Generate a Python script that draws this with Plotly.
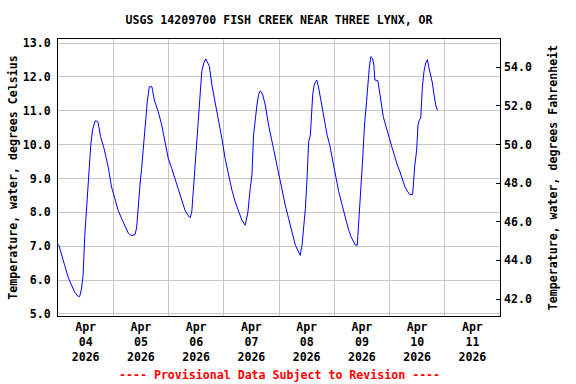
import pandas as pd
import plotly.graph_objects as go

# Hours since 2026-04-04 00:00 and water temperature (deg C)
hours = [0.30, 1.48, 2.92, 4.36, 5.84, 7.27, 8.71, 9.45, 10.19, 10.89, 11.63, 12.63, 13.50, 14.24, 14.98,
         15.68, 16.12, 16.86, 17.42, 18.47, 19.91, 21.78, 23.26, 24.70, 26.13, 27.62, 29.05, 30.49, 31.67,
         33.41, 34.15, 34.85, 35.59, 36.33, 37.02, 38.07, 38.77, 39.64, 40.81, 41.81, 43.56, 45.04, 46.48,
         47.91, 49.39, 50.83, 52.27, 53.75, 55.19, 56.36, 57.37, 58.11, 58.80, 59.54, 60.28, 60.98, 61.72,
         62.46, 63.33, 64.20, 65.07, 65.77, 66.82, 68.25, 69.69, 71.17, 72.61, 74.05, 75.53, 76.97, 78.40,
         79.88, 81.32, 82.50, 83.50, 84.24, 84.94, 85.68, 86.42, 87.11, 87.85, 88.86, 90.03, 91.47, 92.95,
         94.39, 95.83, 97.31, 98.74, 100.18, 101.66, 103.10, 104.54, 105.20, 106.00, 106.89, 107.45, 108.19,
         108.89, 109.63, 110.07, 110.63, 111.37, 112.38, 113.25, 113.99, 114.73, 115.43, 116.17, 116.91,
         118.04, 119.08, 119.78, 120.83, 121.96, 123.01, 124.14, 125.31, 126.32, 127.36, 128.49, 129.23,
         130.00, 130.41, 131.11, 131.72, 132.15, 132.59, 133.15, 134.03, 134.59, 135.20, 135.90, 136.64,
         137.20, 137.64, 138.95, 139.69, 140.43, 141.30, 142.30, 143.04, 144.17, 145.22, 146.22, 147.40,
         148.53, 149.58, 150.71, 151.75, 152.75, 154.06, 154.36, 154.93, 155.80, 156.37, 156.98, 157.55,
         158.29, 158.98, 159.72, 160.46, 161.16, 161.90, 162.64, 163.34, 164.08, 164.82]
temp_c = [7.05, 6.73, 6.43, 6.09, 5.84, 5.64, 5.52, 5.52, 5.74, 6.14, 7.32, 8.41, 9.05, 9.99, 10.43,
          10.66, 10.70, 10.70, 10.66, 10.24, 9.91, 9.35, 8.75, 8.41, 8.06, 7.82, 7.60, 7.39, 7.32,
          7.34, 7.54, 8.21, 8.80, 9.30, 9.89, 10.73, 11.27, 11.71, 11.71, 11.32, 10.97, 10.58, 10.09,
          9.59, 9.30, 9.00, 8.66, 8.36, 8.06, 7.92, 7.84, 8.01, 8.71, 9.49, 10.19, 10.88, 11.67,
          12.16, 12.41, 12.53, 12.41, 12.31, 11.77, 11.27, 10.68, 10.19, 9.59, 9.10, 8.66, 8.31, 8.01,
          7.77, 7.62, 8.01, 8.71, 9.10, 10.28, 10.78, 11.17, 11.47, 11.59, 11.49, 11.17, 10.58, 10.09,
          9.59, 9.10, 8.71, 8.21, 7.82, 7.37, 7.03, 6.83, 6.73, 7.03, 7.67, 8.11, 9.00,
          10.09, 10.28, 10.78, 11.47, 11.79, 11.91, 11.67, 11.37, 11.17, 10.88, 10.60, 10.28,
          9.99, 9.59, 9.30, 9.00, 8.61, 8.31, 8.01, 7.72, 7.47, 7.27, 7.12, 7.03,
          7.03, 7.52, 8.56, 8.90, 9.35, 9.99, 10.58, 11.27, 11.82, 12.26, 12.60, 12.55,
          12.36, 11.91, 11.89, 11.52, 11.17, 10.83, 10.58, 10.38, 10.14, 9.89, 9.64, 9.40,
          9.20, 9.00, 8.75, 8.63, 8.53, 8.53, 8.95, 9.35, 9.84, 10.58, 10.73, 10.78,
          11.71, 12.16, 12.41, 12.51, 12.26, 12.06, 11.82, 11.47, 11.17, 11.01]

start = pd.Timestamp("2026-04-04 00:00")
times = start + pd.to_timedelta(hours, unit="h")
temp_f = [c * 1.8 + 32 for c in temp_c]

title = "USGS 14209700 FISH CREEK NEAR THREE LYNX, OR"
left_title = "Temperature, water, degrees Celsius"
right_title = "Temperature, water, degrees Fahrenheit"
footer = "---- Provisional Data Subject to Revision ----"

FONT = "DejaVu Sans Mono"
FS = 11.6
GRID = "#c8c8c8"
TFONT = dict(family=FONT, size=FS, color="black", weight="bold")

fig = go.Figure()
fig.add_trace(go.Scatter(x=times, y=temp_c, mode="lines",
                         line=dict(color="#0000ff", width=1), showlegend=False))
fig.add_trace(go.Scatter(x=times, y=temp_f, mode="lines", yaxis="y2",
                         line=dict(color="rgba(0,0,0,0)", width=0), showlegend=False,
                         hoverinfo="skip"))

fig.update_layout(
    width=576, height=384,
    margin=dict(l=58, r=76, t=39, b=68, autoexpand=False),
    paper_bgcolor="white", plot_bgcolor="white",
    font=TFONT,
    title=dict(text=title, x=0.5, xref="paper", y=1 - 20 / 384, yref="container",
               yanchor="middle", automargin=False, font=TFONT),
    xaxis=dict(
        type="date", automargin=False,
        range=["2026-04-04 00:00", "2026-04-12 00:00"],
        tick0="2026-04-04 12:00", dtick=86400000,
        tickformat="%b<br>%d<br>%Y", tickfont=TFONT,
        ticks="", showgrid=False,
        minor=dict(tick0="2026-04-04 00:00", dtick=86400000, showgrid=True,
                   gridcolor=GRID, gridwidth=1, ticks=""),
        showline=True, linecolor="black", linewidth=1, mirror=True,
        zeroline=False,
    ),
    yaxis=dict(
        automargin=False,
        range=[4.94, 13.12], dtick=1, tick0=0, tickformat=".1f", tickfont=TFONT,
        showgrid=True, gridcolor=GRID, gridwidth=1,
        ticks="", ticklabelstandoff=4,
        showline=True, linecolor="black", linewidth=1, mirror=True,
        zeroline=False,
        title=dict(text=left_title, standoff=2, font=TFONT),
    ),
    yaxis2=dict(
        automargin=False,
        overlaying="y", side="right",
        range=[41.12, 55.47], dtick=2, tick0=0, tickformat=".1f", tickfont=TFONT,
        showgrid=False, ticks="inside", ticklen=4, tickcolor="black",
        ticklabelstandoff=3,
        zeroline=False,
        title=dict(text=right_title, standoff=17, font=TFONT),
    ),
    annotations=[dict(text=footer, xref="paper", yref="paper", x=0.5, y=-59 / 277,
                      yanchor="middle", showarrow=False,
                      font=dict(family=FONT, size=FS, color="#ff0000", weight="bold"))],
)

fig.write_html("out.html", config={"displayModeBar": False},
               post_script="document.body.style.margin='0';")
